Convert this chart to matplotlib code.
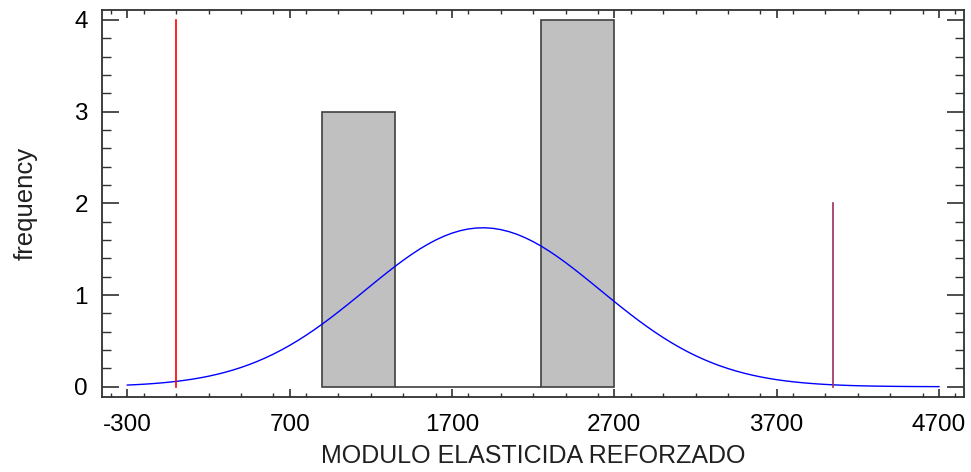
import numpy as np
import matplotlib
matplotlib.use("Agg")
import matplotlib.pyplot as plt
from matplotlib.ticker import MultipleLocator

# Data
bin_edges = [900, 1350, 1800, 2250, 2700]
counts = [3, 0, 0, 4]
n_obs = 7
fit_mean = 1890
fit_sd = 725
curve_range = [-300, 4700]
lower_line_x, lower_line_h = 0, 4
upper_line_x, upper_line_h = 4045, 2
xticks = [-300, 700, 1700, 2700, 3700, 4700]
yticks = [0, 1, 2, 3, 4]

plt.rcParams['font.family'] = ['Liberation Sans', 'DejaVu Sans']
plt.rcParams['axes.unicode_minus'] = False

fig = plt.figure(figsize=(9.71, 4.72), dpi=100)
ax = fig.add_axes([0.1054, 0.1595, 0.8874, 0.8193])

edges = np.array(bin_edges, dtype=float)
widths = np.diff(edges)
ax.bar(edges[:-1], counts, width=widths, align='edge', color='#C0C0C0',
       edgecolor='#404040', linewidth=1.2, zorder=2)

bw = widths[0]
xs = np.linspace(curve_range[0], curve_range[1], 101)
ys = n_obs * bw / (fit_sd * np.sqrt(2 * np.pi)) * np.exp(-0.5 * ((xs - fit_mean) / fit_sd) ** 2)
ax.plot(xs, ys, color='#0000FF', linewidth=1.0, zorder=3)

ax.plot([lower_line_x, lower_line_x], [0, lower_line_h], color='#FF0000', linewidth=1.2, zorder=4)
ax.plot([upper_line_x, upper_line_x], [0, upper_line_h], color='#9B2D5F', linewidth=1.2, zorder=4)

ax.set_xlim(-454, 4854)
ax.set_ylim(-0.109, 4.108)
ax.set_xticks(xticks)
ax.set_yticks(yticks)
ax.xaxis.set_minor_locator(MultipleLocator(200))
ax.yaxis.set_minor_locator(MultipleLocator(0.2))

ax.tick_params(axis='x', which='major', direction='in', length=6, width=1.2,
               top=True, bottom=True, labelsize=17.5, pad=12.5, colors='#303030', labelcolor='black')
ax.tick_params(axis='x', which='minor', direction='in', length=3, width=1.0,
               top=True, bottom=True, colors='#303030')
ax.tick_params(axis='y', which='major', direction='in', length=12.5, width=1.2,
               left=True, right=True, labelsize=17.5, pad=10.5, colors='#303030', labelcolor='black')
ax.tick_params(axis='y', which='minor', direction='in', length=6.5, width=1.0,
               left=True, right=True, colors='#303030')

for s in ax.spines.values():
    s.set_linewidth(1.3)
    s.set_color('#303030')

ax.set_xlabel('MODULO ELASTICIDA REFORZADO', fontsize=18, labelpad=6, color='#202020')
ax.set_ylabel('frequency', fontsize=18.5, labelpad=26, color='#202020')

fig.savefig('out.png', dpi=100)
